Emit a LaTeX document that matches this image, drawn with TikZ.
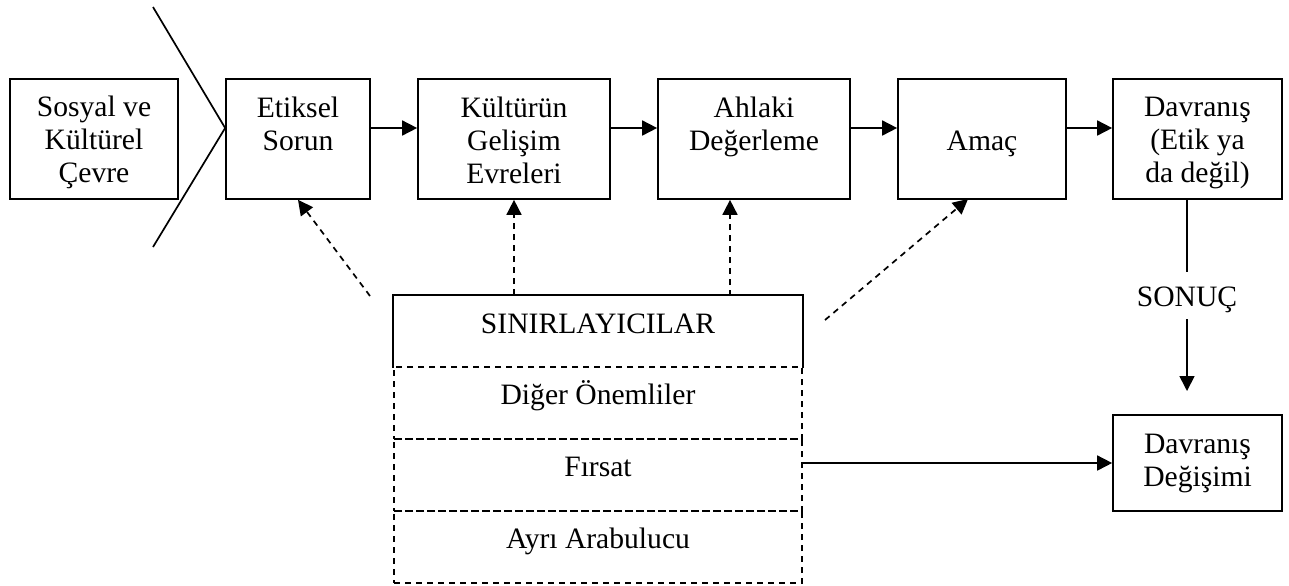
\documentclass[tikz,border=0pt]{standalone}
\usepackage{fontspec}
\setmainfont{Liberation Serif}
\usetikzlibrary{arrows.meta,calc}
% struts that fix the first and last line of the stacked box labels
\newcommand{\topst}{\rule{0pt}{13.5pt}}
\newcommand{\botst}{\rule[-2.5pt]{0pt}{2.5pt}}
\begin{document}
\begin{tikzpicture}[x=0.5pt,y=-0.5pt,
  line width=0.85pt,
  every node/.style={font=\fontsize{14.8pt}{16.5pt}\selectfont, align=center, inner sep=0pt},
  box/.style n args={2}{draw, rectangle, minimum width=#1, minimum height=#2},
  cell/.style={draw, dashed, rectangle, minimum width=204pt, minimum height=36pt, text height=6pt, text depth=4.5pt},
  dashed/.style={dash pattern=on 3pt off 2.5pt},
  arr/.style={-{Triangle[length=7.5pt,width=7.5pt]}},
  darr/.style={arr, dashed}]
\useasboundingbox (0,0) rectangle (1289,585);

% main chain of boxes
\node[box={84pt}{60pt}]   (sos) at (94,139)     {\topst Sosyal ve\\Kültürel\\Çevre\botst};
\node[box={72pt}{60pt}]   (eti) at (298,139)    {\topst Etiksel\\Sorun\\\botst};
\node[box={96pt}{60pt}]   (kul) at (514,139)    {\topst Kültürün\\Gelişim\\Evreleri\botst};
\node[box={96pt}{60pt}]   (ahl) at (754,139)    {\topst Ahlaki\\Değerleme\\\botst};
\node[box={84pt}{60pt}]   (ama) at (982,139)    {\topst\\Amaç\\\botst};
\node[box={84.5pt}{60pt}] (dav) at (1197.5,139) {\topst Davranış\\(Etik ya\\da değil)\botst};
\node[box={84.5pt}{48pt}] (dd)  at (1197.5,463) {\strut Davranış\\Değişimi\strut};

% constraints block
\node[minimum width=204pt, minimum height=35.5pt, text height=6pt, text depth=4.5pt] (sin) at (598,331.5) {SINIRLAYICILAR};
\draw (sin.south west) -- (sin.north west) -- (sin.north east) -- (sin.south east);
\node[cell] (r1) at (598,403) {Diğer Önemliler};
\node[cell] (r2) at (598,475) {Fırsat};
\node[cell] (r3) at (598,547) {Ayrı Arabulucu};

\node (son) at (1187,300) {SONUÇ};

% helper points
\coordinate (lvl) at (0,128);
\coordinate (chT) at (153,7);
\coordinate (chB) at (153,247);
\coordinate (dA)  at (370,296);
\coordinate (dB)  at (730,296);
\coordinate (dC)  at (825,320);
\coordinate (dCt) at (968,199);
\coordinate (s1)  at (1187,272);
\coordinate (s2)  at (1187,319);
\coordinate (s3)  at (1187,391);

% chevron in front of the first step
\draw (chT) -- (eti.west |- lvl) -- (chB);

% flow arrows
\draw[arr] (eti.east |- lvl) -- (kul.west |- lvl);
\draw[arr] (kul.east |- lvl) -- (ahl.west |- lvl);
\draw[arr] (ahl.east |- lvl) -- (ama.west |- lvl);
\draw[arr] (ama.east |- lvl) -- (dav.west |- lvl);

% influences of the constraints
\draw[darr] (dA) -- (eti.south);
\draw[darr] (kul.south |- sin.north) -- (kul.south);
\draw[darr] (dB) -- (dB |- ahl.south);
\draw[darr] (dC) -- (dCt);

% outcome
\draw (son |- dav.south) -- (s1);
\draw[arr] (s2) -- (s3);
\draw[arr] (r2.east |- dd.west) -- (dd.west);
\end{tikzpicture}
\end{document}
